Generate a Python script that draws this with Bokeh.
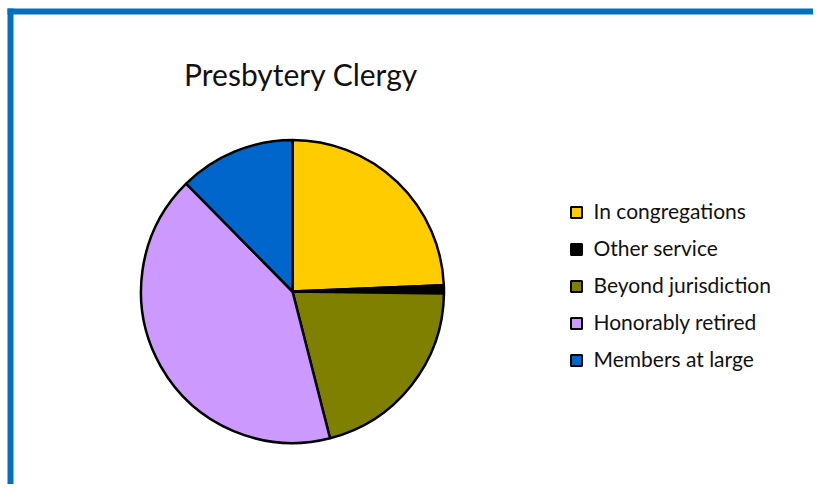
import numpy as np
from bokeh.plotting import figure
from bokeh.models import Range1d, Label
from bokeh.core.properties import value
from bokeh.embed import file_html
from bokeh.resources import INLINE

# Data
categories = ["In congregations", "Other service", "Beyond jurisdiction", "Honorably retired", "Members at large"]
counts = [55, 2, 47, 94, 28]
colors = ["#FFCC00", "#000000", "#808000", "#CC99FF", "#0066CC"]
title_text = "Presbytery Clergy"

W, H = 813, 484
p = figure(width=W, height=H, output_backend="svg", toolbar_location=None,
           x_range=Range1d(0, W), y_range=Range1d(0, H), min_border=0,
           match_aspect=False)
p.axis.visible = False
p.grid.visible = False
p.outline_line_color = None
p.background_fill_color = "white"
p.border_fill_color = "white"

# frame border (top and left)
p.quad(left=[7], right=[W + 5], top=[H - 8], bottom=[H - 14], fill_color="#0070C0", line_color=None)
p.quad(left=[7], right=[13], top=[H - 8], bottom=[-5], fill_color="#0070C0", line_color=None)

# Pie
vals = np.array(counts, dtype=float)
frac = vals / vals.sum()
cum = np.concatenate([[0], np.cumsum(frac)])
start = np.pi / 2 - cum[:-1] * 2 * np.pi
end = np.pi / 2 - cum[1:] * 2 * np.pi
cx, cy, r = 292, H - 291, 151.5
p.wedge(x=cx, y=cy, radius=r, start_angle=start, end_angle=end, direction="clock",
        fill_color=colors, line_color="black", line_width=2.5)

# Title
p.add_layout(Label(x=300.5, y=H - 73, text=title_text, text_font="Lato",
                   text_font_size="30px", text_align="center", text_baseline="middle",
                   text_color="#111111"))

# Legend
n = len(categories)
sq_y = [H - (212 + 37 * i) for i in range(n)]
tx_y = [H - (210 + 37 * i) for i in range(n)]
p.rect(x=[576] * n, y=sq_y, width=11, height=11, fill_color=colors, line_color="black", line_width=2)
p.text(x=[593] * n, y=tx_y, text=categories, text_font=value("Lato"),
       text_font_size="21px", text_baseline="middle", text_color="#111111")

open("out.html", "w").write(file_html(p, INLINE))
